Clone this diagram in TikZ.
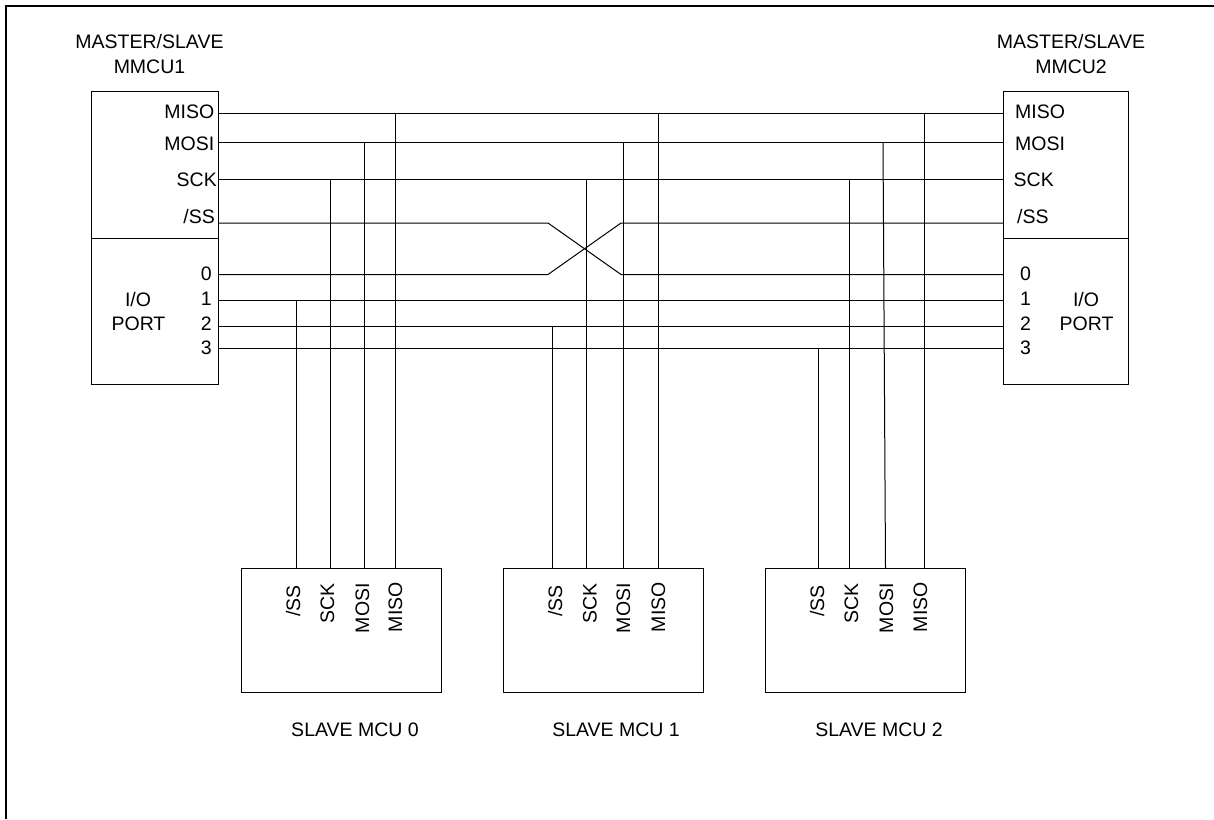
\documentclass[tikz,border=0pt]{standalone}
\usepackage{fontspec}
\setmainfont{Liberation Sans}
\tikzset{
  chipbox/.style={draw,line width=1pt,inner sep=0pt,outer sep=0pt,anchor=north west},
  lbl/.style={inner sep=0pt,text height=14pt,text depth=0pt,font=\fontsize{19.5}{19.5}\selectfont},
  wire/.style={line width=1pt}
}
\begin{document}
\begin{tikzpicture}[x=1pt,y=-1pt]
\useasboundingbox (0,0) rectangle (1214,819);
% ---- sheet edge ----
\coordinate (sheetbl) at (6,819);
\coordinate (sheettl) at (6,6);
\coordinate (sheettr) at (1214,6);
\draw[line width=2pt] (sheetbl) -- (sheettl) -- (sheettr);
% ---- master boxes ----
\node[chipbox,minimum width=127.5pt,minimum height=146.5pt] (spil) at (91,91.5) {};
\node[chipbox,minimum width=127.5pt,minimum height=146.5pt] (iol) at (91,238) {};
\node[chipbox,minimum width=125pt,minimum height=146.5pt] (spir) at (1003.5,91.5) {};
\node[chipbox,minimum width=125pt,minimum height=146.5pt] (ior) at (1003.5,238) {};
\node[lbl] (titlela) at (149.5,41) {MASTER/SLAVE};
\node[lbl] (titlelb) at (149.5,66) {MMCU1};
\node[lbl] (titlera) at (1071,41) {MASTER/SLAVE};
\node[lbl] (titlerb) at (1071,66) {MMCU2};
\node[lbl] (ioltxt) at (138,299) {I/O};
\node[lbl] (portl) at (138.5,323) {PORT};
\node[lbl] (iortxt) at (1086,299) {I/O};
\node[lbl] (portr) at (1086.5,323) {PORT};
% ---- master pins: y of wire / right edge of left text / left edge of right text ----
\foreach \p/\w/\y/\a/\b/\s in {
  miso/113.5/111/214.5/1015/MISO, mosi/142.5/143/214.5/1015/MOSI,
  sck/179.5/179/217/1013.5/SCK, ss/223/216.5/215/1017/{/SS},
  pa/274.5/273/212/1020/0, pb/300.5/298/212/1020/1,
  pc/326/323/212/1020/2, pd/348/347/212/1020/3%
}{
  \node[lbl,anchor=east] (tl\p) at (\a,\y) {\s};
  \node[lbl,anchor=west] (tr\p) at (\b,\y) {\s};
  \coordinate (l\p) at (218.5,\w);
  \coordinate (r\p) at (1003.5,\w);
}
% ---- straight bus lines ----
\foreach \p in {miso,mosi,sck,pb,pc,pd} \draw[wire] (l\p) -- (r\p);
% ---- crossover of /SS and port 0 ----
\coordinate (xla) at (548,223);
\coordinate (xlb) at (548,274.5);
\coordinate (xra) at (621,223);
\coordinate (xrb) at (621,274.5);
\draw[wire] (lss) -- (xla) -- (xrb) -- (rpa);
\draw[wire] (lpa) -- (xlb) -- (xra) -- (rss);
% ---- slave boxes ----
\foreach \n/\x/\c in {0/241/355, 1/503/616, 2/765/879}{
  \node[chipbox,minimum width=200pt,minimum height=124pt] (slave\n) at (\x,568) {};
  \node[lbl] (cap\n) at (\c,729) {SLAVE MCU \n};
}
% ---- slave pin labels ----
\foreach \n/\t/\x/\y/\s in {
  0/ss/293/585/{/SS}, 0/sck/327/583/SCK, 0/mosi/362/583/MOSI, 0/miso/395/582/MISO,
  1/ss/555/585/{/SS}, 1/sck/589.5/583/SCK, 1/mosi/623/583/MOSI, 1/miso/658/582/MISO,
  2/ss/817/585/{/SS}, 2/sck/851/583/SCK, 2/mosi/886/583/MOSI, 2/miso/920/582/MISO%
}{
  \node[lbl,rotate=90,anchor=east] (t\n\t) at (\x,\y) {\s};
}
% ---- taps from the bus down to the slaves ----
\foreach \n/\t/\x/\b in {
  0/ss/296/lpb, 0/sck/330/lsck, 0/mosi/364/lmosi, 0/miso/395/lmiso,
  1/ss/552/lpc, 1/sck/586/lsck, 1/mosi/623.5/lmosi, 1/miso/658/lmiso,
  2/ss/818.5/lpd, 2/sck/849/lsck, 2/miso/924/lmiso%
}{
  \coordinate (s\n\t) at (\x,568);
  \draw[wire] (s\n\t) -- (s\n\t |- \b);
}
% ---- this one leans a little ----
\coordinate (s2mosi) at (885.5,568);
\coordinate (tap2mosi) at (883,142.5);
\draw[wire] (s2mosi) -- (tap2mosi);
\end{tikzpicture}
\end{document}
